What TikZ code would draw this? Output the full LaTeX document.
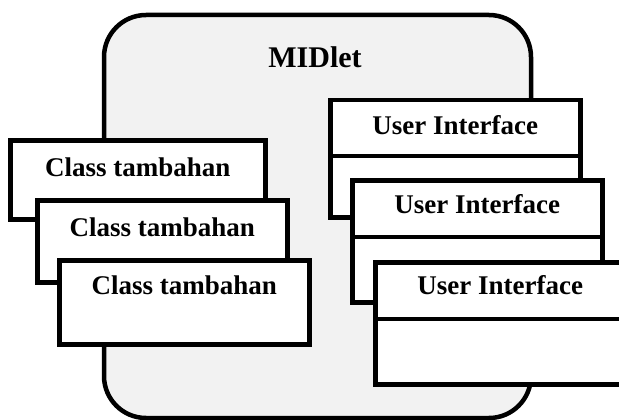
\documentclass[tikz,border=0pt]{standalone}
\usepackage{fontspec}
\setmainfont{Liberation Serif}
\begin{document}
\begin{tikzpicture}[x=1pt,y=-1pt,
  frame/.style={draw=black,line width=4.5pt},
  bigbox/.style={frame,rounded corners=42pt,fill=black!5,minimum width=427pt,minimum height=403pt,inner sep=0pt},
  classbox/.style={frame,fill=white,anchor=north west,inner sep=0pt},
  uibox/.style={frame,fill=white,anchor=north west,inner sep=0pt,minimum width=250pt},
  lbl/.style={font=\fontsize{27}{30}\selectfont\bfseries,inner sep=0pt},
  title/.style={font=\fontsize{30}{32}\selectfont\bfseries,inner sep=0pt}
]
\useasboundingbox (0,0) rectangle (619,420);
\clip (0,0) rectangle (619,420);
\fill[white] (0,0) rectangle (619,420);
% MIDlet container
\node[bigbox] (midlet) at (317.5,216.5) {};
\node[title] (mt) at (315,57) {MIDlet};
% Class boxes
\node[classbox,minimum width=255pt,minimum height=79pt] (c1) at (8,138) {};
\node[lbl] (c1t) at ([yshift=-29pt]c1.north) {Class tambahan};
\node[classbox,minimum width=250pt,minimum height=82pt] (c2) at (35,198) {};
\node[lbl] (c2t) at ([yshift=-29pt]c2.north) {Class tambahan};
\node[classbox,minimum width=250pt,minimum height=84pt] (c3) at (57,258) {};
\node[lbl] (c3t) at ([yshift=-27pt]c3.north) {Class tambahan};
% User Interface boxes
\node[uibox,minimum height=117pt] (u1) at (328,98) {};
\node[lbl] (u1t) at ([yshift=-27pt]u1.north) {User Interface};
\coordinate (u1d) at ([yshift=-58pt]u1.north);
\draw[frame] (u1.west |- u1d) -- (u1.east |- u1d);
\node[uibox,minimum height=122pt] (u2) at (350,178) {};
\node[lbl] (u2t) at ([yshift=-26pt]u2.north) {User Interface};
\coordinate (u2d) at ([yshift=-59pt]u2.north);
\draw[frame] (u2.west |- u2d) -- (u2.east |- u2d);
\node[uibox,minimum height=122pt] (u3) at (373,260) {};
\node[lbl] (u3t) at ([yshift=-25pt]u3.north) {User Interface};
\coordinate (u3d) at ([yshift=-59pt]u3.north);
\draw[frame] (u3.west |- u3d) -- (u3.east |- u3d);
\end{tikzpicture}
\end{document}
